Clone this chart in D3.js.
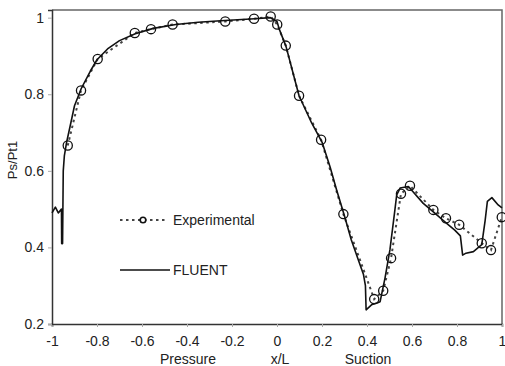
<!DOCTYPE html>
<html>
<head>
<meta charset="utf-8">
<script src="https://cdn.jsdelivr.net/npm/d3@7"></script>
<style>
  body { margin: 0; background: #fff; }
  svg { display: block; font-family: "Liberation Sans", Arial, sans-serif; }
</style>
</head>
<body>
<div id="chart"></div>
<script>
// Experimental points (circles)
const expX = [-0.930, -0.871, -0.797, -0.632, -0.560, -0.464, -0.230, -0.102, -0.028, 0.001,
              0.039, 0.098, 0.196, 0.295, 0.432, 0.472, 0.507, 0.551, 0.591, 0.695,
              0.751, 0.810, 0.910, 0.951, 0.999];
const expY = [0.666, 0.810, 0.892, 0.960, 0.970, 0.982, 0.990, 0.997, 1.003, 0.982,
              0.927, 0.796, 0.681, 0.487, 0.265, 0.287, 0.372, 0.540, 0.561, 0.498,
              0.476, 0.459, 0.411, 0.393, 0.479];

// FLUENT curve
const fluentX = [-1.000, -0.985, -0.972, -0.958, -0.957, -0.953, -0.950, -0.945, -0.935, -0.920,
                 -0.900, -0.870, -0.830, -0.800, -0.750, -0.700, -0.630, -0.550, -0.450, -0.350,
                 -0.250, -0.100, -0.030, 0.000, 0.010, 0.040, 0.098, 0.154, 0.200, 0.236,
                 0.265, 0.300, 0.330, 0.360, 0.384, 0.393, 0.396, 0.420, 0.445, 0.458,
                 0.480, 0.502, 0.524, 0.532, 0.547, 0.584, 0.650, 0.700, 0.750, 0.790,
                 0.815, 0.825, 0.840, 0.873, 0.910, 0.925, 0.935, 0.955, 0.983, 1.000];
const fluentY = [0.490, 0.505, 0.490, 0.500, 0.410, 0.410, 0.600, 0.640, 0.675, 0.715,
                 0.770, 0.815, 0.860, 0.890, 0.920, 0.940, 0.958, 0.972, 0.982, 0.988,
                 0.992, 0.997, 1.000, 0.990, 0.970, 0.925, 0.796, 0.725, 0.675, 0.610,
                 0.550, 0.482, 0.420, 0.370, 0.330, 0.300, 0.237, 0.250, 0.255, 0.258,
                 0.320, 0.394, 0.498, 0.537, 0.555, 0.559, 0.515, 0.490, 0.465, 0.445,
                 0.430, 0.380, 0.385, 0.389, 0.407, 0.470, 0.520, 0.530, 0.511, 0.503];

const xTicks = [-1, -0.8, -0.6, -0.4, -0.2, 0, 0.2, 0.4, 0.6, 0.8, 1];
const yTicks = [0.2, 0.4, 0.6, 0.8, 1];

const W = 505, H = 366;
const svg = d3.select('#chart').append('svg')
    .attr('width', W)
    .attr('height', H);

const x = d3.scaleLinear().domain([-1, 1]).range([52, 502]);
const y = d3.scaleLinear().domain([0.2, 1.02]).range([324, 10]);

// frame (top + right)
svg.append('path')
    .attr('d', `M${x(-1)},${y(1.02)}H${x(1)}V${y(0.2)}`)
    .attr('fill', 'none')
    .attr('stroke', '#666')
    .attr('stroke-width', 1.5);

// axes
const xAxis = svg.append('g')
    .attr('transform', `translate(0,${y(0.2)})`)
    .call(d3.axisBottom(x).tickValues(xTicks).tickSize(3).tickPadding(9)
        .tickFormat(d => String(d)));
xAxis.select('.domain').attr('stroke', '#333').attr('stroke-width', 1.5);
xAxis.selectAll('.tick line').attr('stroke', '#aaa');
xAxis.selectAll('text').attr('font-size', 14).attr('fill', '#222')
    .attr('font-family', '"Liberation Sans", Arial, sans-serif');

const yAxis = svg.append('g')
    .attr('transform', `translate(${x(-1)},0)`)
    .call(d3.axisLeft(y).tickValues(yTicks).tickSize(4).tickPadding(4)
        .tickFormat(d => String(d)));
yAxis.select('.domain').attr('stroke', '#333').attr('stroke-width', 1.5);
yAxis.selectAll('.tick line').attr('stroke', '#aaa');
yAxis.selectAll('text').attr('font-size', 14).attr('fill', '#222')
    .attr('font-family', '"Liberation Sans", Arial, sans-serif');

// axis titles
svg.append('text').attr('x', 188).attr('y', 364).attr('text-anchor', 'middle')
    .attr('font-size', 14).attr('fill', '#222').text('Pressure');
svg.append('text').attr('x', 280).attr('y', 364).attr('text-anchor', 'middle')
    .attr('font-size', 14).attr('fill', '#222').text('x/L');
svg.append('text').attr('x', 368).attr('y', 364).attr('text-anchor', 'middle')
    .attr('font-size', 14).attr('fill', '#222').text('Suction');
svg.append('text')
    .attr('transform', 'translate(17,160) rotate(-90)')
    .attr('text-anchor', 'middle')
    .attr('font-size', 13).attr('fill', '#222').text('Ps/Pt1');

// experimental dashed line
const expData = expX.map((v, i) => [v, expY[i]]);
const fluentData = fluentX.map((v, i) => [v, fluentY[i]]);
const line = d3.line().x(d => x(d[0])).y(d => y(d[1]));

svg.append('path')
    .datum(expData)
    .attr('d', line)
    .attr('fill', 'none')
    .attr('stroke', '#444')
    .attr('stroke-width', 2)
    .attr('stroke-dasharray', '2.5,3.5');

svg.append('path')
    .datum(fluentData)
    .attr('d', line)
    .attr('fill', 'none')
    .attr('stroke', '#111')
    .attr('stroke-width', 1.6)
    .attr('stroke-linejoin', 'round');

svg.selectAll('.pt')
    .data(expData)
    .enter()
    .append('circle')
    .attr('class', 'pt')
    .attr('cx', d => x(d[0]))
    .attr('cy', d => y(d[1]))
    .attr('r', 4.6)
    .attr('fill', 'none')
    .attr('stroke', '#111')
    .attr('stroke-width', 1.3);

// legend
const lg = svg.append('g');
lg.append('line').attr('x1', 120).attr('x2', 168).attr('y1', 220).attr('y2', 220)
    .attr('stroke', '#444').attr('stroke-width', 2).attr('stroke-dasharray', '2.5,3.5');
lg.append('circle').attr('cx', 143).attr('cy', 220).attr('r', 2.8)
    .attr('fill', '#fff').attr('stroke', '#111').attr('stroke-width', 1.6);
lg.append('text').attr('x', 173).attr('y', 225).attr('font-size', 14).attr('fill', '#222')
    .text('Experimental');
lg.append('line').attr('x1', 120).attr('x2', 170).attr('y1', 270).attr('y2', 270)
    .attr('stroke', '#111').attr('stroke-width', 1.6);
lg.append('text').attr('x', 173).attr('y', 275).attr('font-size', 14).attr('fill', '#222')
    .text('FLUENT');
</script>
</body>
</html>
